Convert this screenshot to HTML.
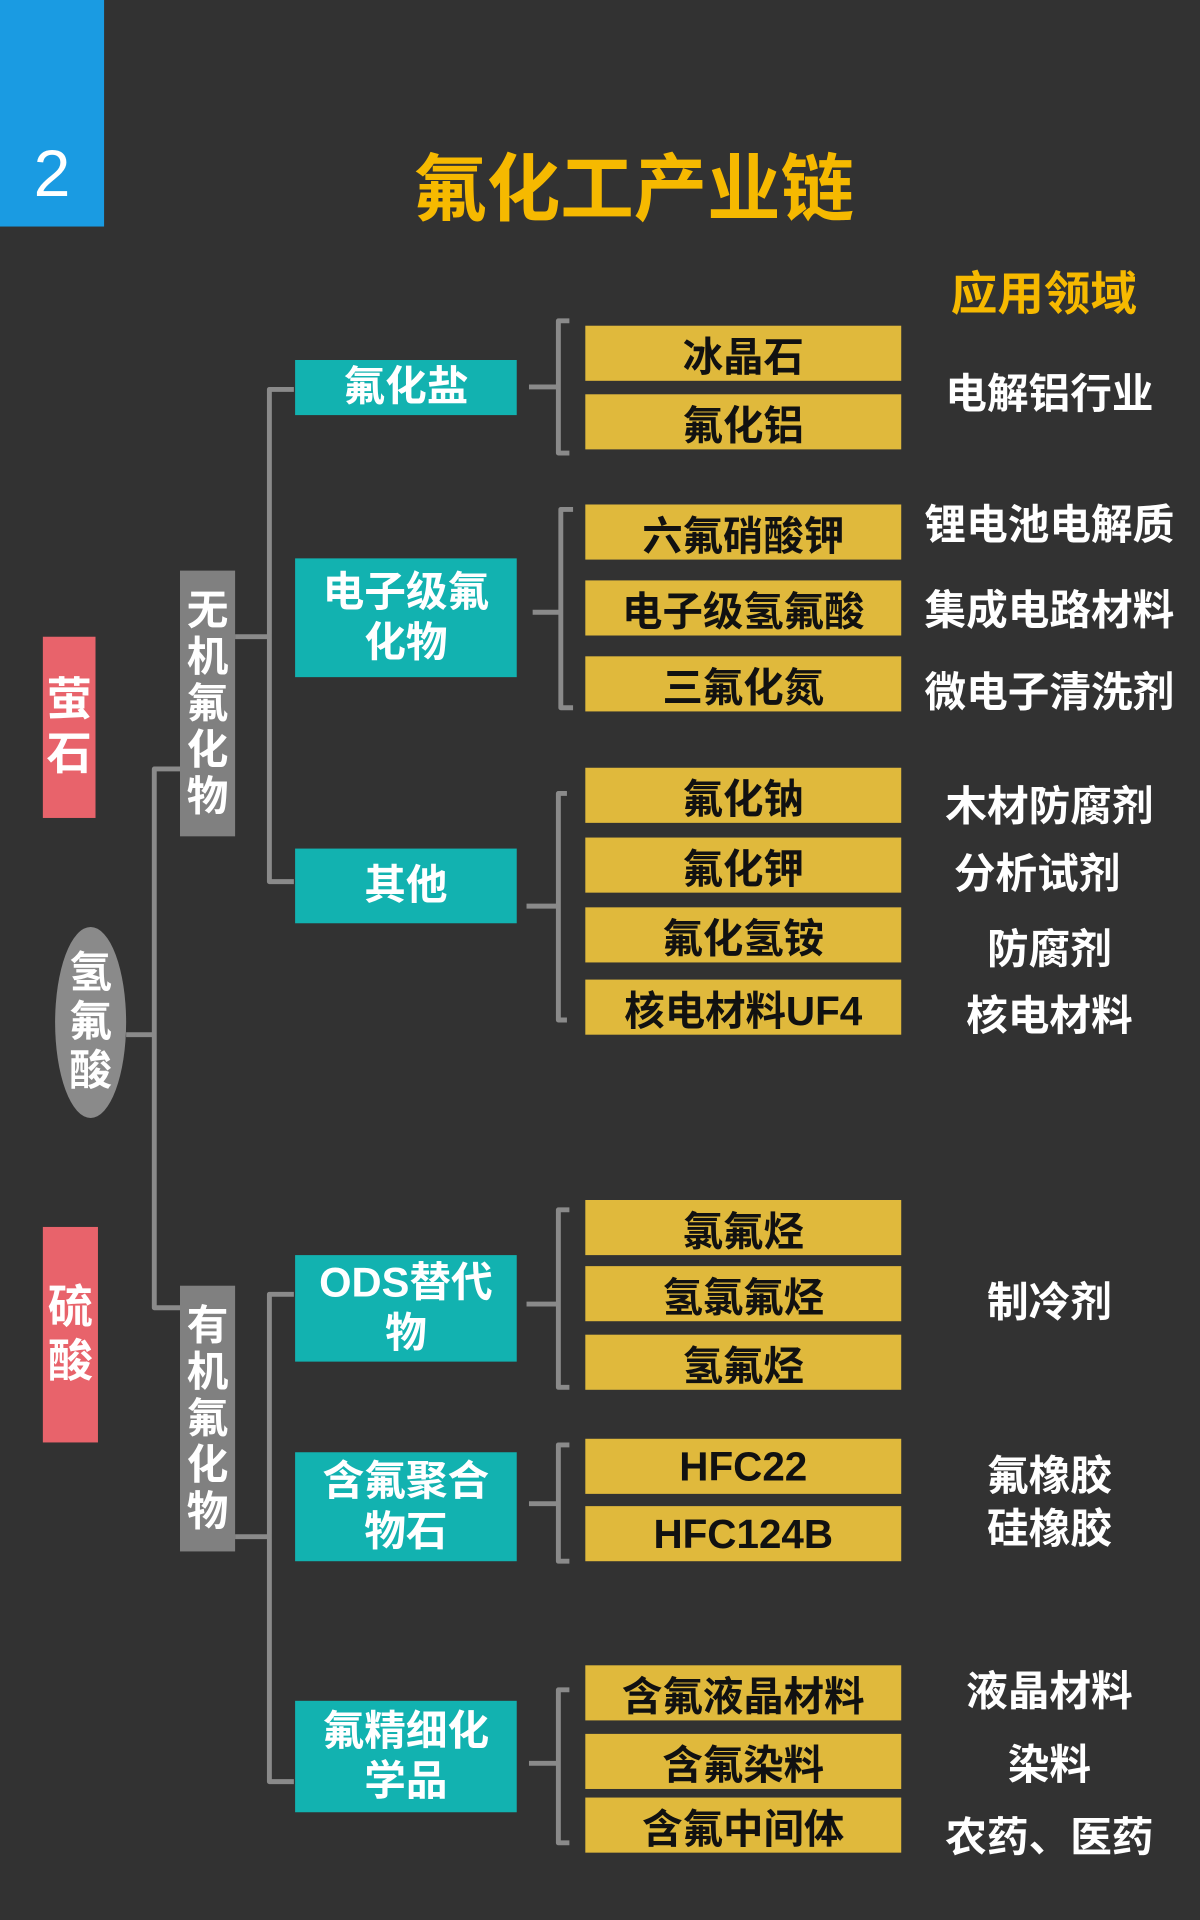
<!DOCTYPE html>
<html><head><meta charset="utf-8"><style>
html,body{margin:0;padding:0;background:#323232;}
#w{width:1200px;height:1920px;overflow:hidden;position:relative;background:#323232;}
#s{position:absolute;left:0;top:0;width:980px;height:1568px;transform:scale(1.22449);transform-origin:0 0;font-family:"Liberation Sans","Noto Sans CJK SC",sans-serif;font-weight:bold;}
.a{position:absolute;display:flex;align-items:center;justify-content:center;text-align:center;}
.t{background:#12b2b0;color:#fff;font-size:34px;line-height:41px;}
.y{background:#e0b93c;color:#111;font-size:33px;left:478px;width:258px;height:45px;}
.r{color:#fff;font-size:34px;left:745px;width:224px;height:44px;}
.v{color:#fff;font-size:34px;line-height:38px;flex-direction:column;}
</style></head><body><div id="w"><div id="s">
<div class="a" style="left:0;top:0;width:85px;height:185px;background:#1a9be2;color:#fff;font-weight:normal;font-size:54px;align-items:flex-end;box-sizing:border-box;"><span style="margin-bottom:12px">2</span></div>
<div class="a" style="left:290px;top:113px;width:455px;height:72px;color:#f6b900;font-size:60px;">氟化工产业链</div>
<div class="a" style="left:755px;top:213px;width:195px;height:47px;color:#f6b900;font-size:38px;">应用领域</div>

<svg style="position:absolute;left:0;top:0" width="980" height="1568" fill="none" stroke="#8a8a8a" stroke-width="4" stroke-linejoin="round">
<path d="M147 628 H126 V1068 H147 M103 845 H126"/>
<path d="M192 520 H218 M240 318 H220 V720 H240"/>
<path d="M192 1255 H218 M240 1057 H220 V1455 H240"/>
<path d="M465 262 H456 V370 H465 M432 316 H456"/>
<path d="M468 416 H458 V578 H468 M435 500 H458"/>
<path d="M463 648 H456 V833 H463 M430 740 H456"/>
<path d="M465 988 H456 V1133 H465 M430 1065 H456"/>
<path d="M465 1180 H456 V1275 H465 M432 1228 H456"/>
<path d="M465 1380 H456 V1505 H465 M432 1440 H456"/>
</svg>

<div class="a v" style="left:35px;top:520px;width:43px;height:148px;background:#e8636b;font-size:37px;line-height:44px;">萤<br>石</div>
<div class="a v" style="left:45px;top:757px;width:58px;height:156px;background:#8a8a8a;border-radius:50%;font-size:35px;line-height:40px;">氢<br>氟<br>酸</div>
<div class="a v" style="left:35px;top:1002px;width:45px;height:176px;background:#e8636b;font-size:37px;line-height:44px;">硫<br>酸</div>
<div class="a v" style="left:147px;top:466px;width:45px;height:217px;background:#808080;">无<br>机<br>氟<br>化<br>物</div>
<div class="a v" style="left:147px;top:1050px;width:45px;height:217px;background:#808080;">有<br>机<br>氟<br>化<br>物</div>

<div class="a t" style="left:241px;top:294px;width:181px;height:45px;">氟化盐</div>
<div class="a t" style="left:241px;top:456px;width:181px;height:97px;">电子级氟<br>化物</div>
<div class="a t" style="left:241px;top:693px;width:181px;height:61px;">其他</div>
<div class="a t" style="left:241px;top:1025px;width:181px;height:87px;">ODS替代<br>物</div>
<div class="a t" style="left:241px;top:1186px;width:181px;height:89px;">含氟聚合<br>物石</div>
<div class="a t" style="left:241px;top:1389px;width:181px;height:91px;">氟精细化<br>学品</div>

<div class="a y" style="top:266px">冰晶石</div>
<div class="a y" style="top:322px">氟化铝</div>
<div class="a y" style="top:412px">六氟硝酸钾</div>
<div class="a y" style="top:474px">电子级氢氟酸</div>
<div class="a y" style="top:536px">三氟化氮</div>
<div class="a y" style="top:627px">氟化钠</div>
<div class="a y" style="top:684px">氟化钾</div>
<div class="a y" style="top:741px">氟化氢铵</div>
<div class="a y" style="top:800px">核电材料UF4</div>
<div class="a y" style="top:980px">氯氟烃</div>
<div class="a y" style="top:1034px">氢氯氟烃</div>
<div class="a y" style="top:1090px">氢氟烃</div>
<div class="a y" style="top:1175px">HFC22</div>
<div class="a y" style="top:1230px">HFC124B</div>
<div class="a y" style="top:1360px">含氟液晶材料</div>
<div class="a y" style="top:1416px">含氟染料</div>
<div class="a y" style="top:1468px">含氟中间体</div>

<div class="a r" style="top:296px">电解铝行业</div>
<div class="a r" style="top:403px">锂电池电解质</div>
<div class="a r" style="top:473px">集成电路材料</div>
<div class="a r" style="top:540px">微电子清洗剂</div>
<div class="a r" style="top:633px">木材防腐剂</div>
<div class="a r" style="top:688px;left:735px">分析试剂</div>
<div class="a r" style="top:750px">防腐剂</div>
<div class="a r" style="top:804px">核电材料</div>
<div class="a r" style="top:1038px">制冷剂</div>
<div class="a r" style="top:1180px">氟橡胶</div>
<div class="a r" style="top:1223px">硅橡胶</div>
<div class="a r" style="top:1356px">液晶材料</div>
<div class="a r" style="top:1416px">染料</div>
<div class="a r" style="top:1475px">农药、医药</div>
</div></div></body></html>
